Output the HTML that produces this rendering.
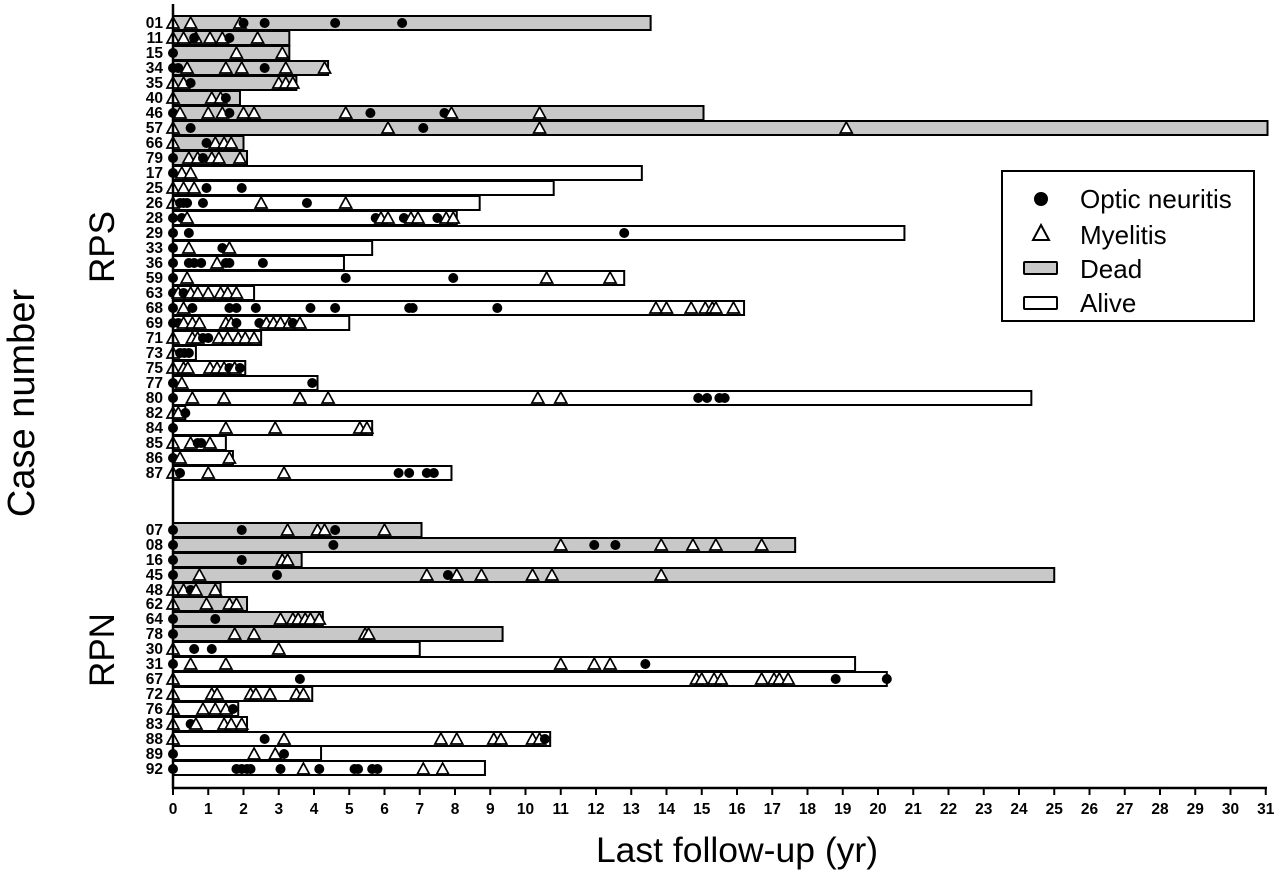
<!DOCTYPE html>
<html><head><meta charset="utf-8"><style>
html,body{margin:0;padding:0;background:#fff}
svg{display:block}
text{font-family:"Liberation Sans",Arial,sans-serif;fill:#000}
.rl{font-size:15.5px;font-weight:bold;text-anchor:end}
.tl{font-size:15.5px;font-weight:bold;text-anchor:middle}
</style></head><body>
<svg width="1280" height="876" viewBox="0 0 1280 876" xmlns="http://www.w3.org/2000/svg">
<defs>
<ellipse id="d" cx="0" cy="0" rx="0.1418" ry="5" fill="#000"/>
<path id="t" d="M0,-6 L0.1702,5 L-0.1702,5 Z" fill="#fff" stroke="#000" stroke-width="1.7" vector-effect="non-scaling-stroke" stroke-linejoin="miter"/>
</defs>
<g transform="translate(173,0) scale(35.25,1)" stroke="#000" stroke-width="2">
<g vector-effect="non-scaling-stroke">
<rect x="0" y="16" width="13.55" height="14" fill="#c8c8c8" vector-effect="non-scaling-stroke"/>
<rect x="0" y="31" width="3.3" height="14" fill="#c8c8c8" vector-effect="non-scaling-stroke"/>
<rect x="0" y="46" width="3.3" height="14" fill="#c8c8c8" vector-effect="non-scaling-stroke"/>
<rect x="0" y="61" width="4.4" height="14" fill="#c8c8c8" vector-effect="non-scaling-stroke"/>
<rect x="0" y="76" width="3.5" height="14" fill="#c8c8c8" vector-effect="non-scaling-stroke"/>
<rect x="0" y="91" width="1.9" height="14" fill="#c8c8c8" vector-effect="non-scaling-stroke"/>
<rect x="0" y="106" width="15.05" height="14" fill="#c8c8c8" vector-effect="non-scaling-stroke"/>
<rect x="0" y="121" width="31.05" height="14" fill="#c8c8c8" vector-effect="non-scaling-stroke"/>
<rect x="0" y="136" width="2.0" height="14" fill="#c8c8c8" vector-effect="non-scaling-stroke"/>
<rect x="0" y="151" width="2.1" height="14" fill="#c8c8c8" vector-effect="non-scaling-stroke"/>
<rect x="0" y="166" width="13.3" height="14" fill="#fff" vector-effect="non-scaling-stroke"/>
<rect x="0" y="181" width="10.8" height="14" fill="#fff" vector-effect="non-scaling-stroke"/>
<rect x="0" y="196" width="8.7" height="14" fill="#fff" vector-effect="non-scaling-stroke"/>
<rect x="0" y="211" width="8.05" height="14" fill="#fff" vector-effect="non-scaling-stroke"/>
<rect x="0" y="226" width="20.75" height="14" fill="#fff" vector-effect="non-scaling-stroke"/>
<rect x="0" y="241" width="5.65" height="14" fill="#fff" vector-effect="non-scaling-stroke"/>
<rect x="0" y="256" width="4.85" height="14" fill="#fff" vector-effect="non-scaling-stroke"/>
<rect x="0" y="271" width="12.8" height="14" fill="#fff" vector-effect="non-scaling-stroke"/>
<rect x="0" y="286" width="2.3" height="14" fill="#fff" vector-effect="non-scaling-stroke"/>
<rect x="0" y="301" width="16.2" height="14" fill="#fff" vector-effect="non-scaling-stroke"/>
<rect x="0" y="316" width="5.0" height="14" fill="#fff" vector-effect="non-scaling-stroke"/>
<rect x="0" y="331" width="2.5" height="14" fill="#fff" vector-effect="non-scaling-stroke"/>
<rect x="0" y="346" width="0.65" height="14" fill="#fff" vector-effect="non-scaling-stroke"/>
<rect x="0" y="361" width="2.05" height="14" fill="#fff" vector-effect="non-scaling-stroke"/>
<rect x="0" y="376" width="4.1" height="14" fill="#fff" vector-effect="non-scaling-stroke"/>
<rect x="0" y="391" width="24.35" height="14" fill="#fff" vector-effect="non-scaling-stroke"/>
<rect x="0" y="406" width="0.35" height="14" fill="#fff" vector-effect="non-scaling-stroke"/>
<rect x="0" y="421" width="5.65" height="14" fill="#fff" vector-effect="non-scaling-stroke"/>
<rect x="0" y="436" width="1.5" height="14" fill="#fff" vector-effect="non-scaling-stroke"/>
<rect x="0" y="451" width="1.7" height="14" fill="#fff" vector-effect="non-scaling-stroke"/>
<rect x="0" y="466" width="7.9" height="14" fill="#fff" vector-effect="non-scaling-stroke"/>
<rect x="0" y="523" width="7.05" height="14" fill="#c8c8c8" vector-effect="non-scaling-stroke"/>
<rect x="0" y="538" width="17.65" height="14" fill="#c8c8c8" vector-effect="non-scaling-stroke"/>
<rect x="0" y="553" width="3.65" height="14" fill="#c8c8c8" vector-effect="non-scaling-stroke"/>
<rect x="0" y="568" width="25.0" height="14" fill="#c8c8c8" vector-effect="non-scaling-stroke"/>
<rect x="0" y="583" width="1.35" height="14" fill="#c8c8c8" vector-effect="non-scaling-stroke"/>
<rect x="0" y="597" width="2.1" height="14" fill="#c8c8c8" vector-effect="non-scaling-stroke"/>
<rect x="0" y="612" width="4.25" height="14" fill="#c8c8c8" vector-effect="non-scaling-stroke"/>
<rect x="0" y="627" width="9.35" height="14" fill="#c8c8c8" vector-effect="non-scaling-stroke"/>
<rect x="0" y="642" width="7.0" height="14" fill="#fff" vector-effect="non-scaling-stroke"/>
<rect x="0" y="657" width="19.35" height="14" fill="#fff" vector-effect="non-scaling-stroke"/>
<rect x="0" y="672" width="20.25" height="14" fill="#fff" vector-effect="non-scaling-stroke"/>
<rect x="0" y="687" width="3.95" height="14" fill="#fff" vector-effect="non-scaling-stroke"/>
<rect x="0" y="702" width="1.85" height="14" fill="#fff" vector-effect="non-scaling-stroke"/>
<rect x="0" y="717" width="2.1" height="14" fill="#fff" vector-effect="non-scaling-stroke"/>
<rect x="0" y="732" width="10.7" height="14" fill="#fff" vector-effect="non-scaling-stroke"/>
<rect x="0" y="746" width="4.2" height="14" fill="#fff" vector-effect="non-scaling-stroke"/>
<rect x="0" y="761" width="8.85" height="14" fill="#fff" vector-effect="non-scaling-stroke"/>
</g>
<g stroke="none">
<use href="#t" x="0" y="23"/><use href="#t" x="0.5" y="23"/><use href="#t" x="1.9" y="23"/><use href="#d" x="2.0" y="23"/><use href="#d" x="2.6" y="23"/><use href="#d" x="4.6" y="23"/><use href="#d" x="6.5" y="23"/>
<use href="#t" x="0" y="38"/><use href="#t" x="0.3" y="38"/><use href="#t" x="0.65" y="38"/><use href="#t" x="1.05" y="38"/><use href="#t" x="1.4" y="38"/><use href="#t" x="2.4" y="38"/><use href="#d" x="0.6" y="38"/><use href="#d" x="1.6" y="38"/>
<use href="#d" x="0" y="53"/><use href="#t" x="1.8" y="53"/><use href="#t" x="3.1" y="53"/>
<use href="#d" x="0" y="68"/><use href="#d" x="0.15" y="68"/><use href="#t" x="0.4" y="68"/><use href="#t" x="1.5" y="68"/><use href="#t" x="1.95" y="68"/><use href="#d" x="2.6" y="68"/><use href="#t" x="3.2" y="68"/><use href="#t" x="4.3" y="68"/>
<use href="#t" x="0" y="83"/><use href="#t" x="0.3" y="83"/><use href="#d" x="0.5" y="83"/><use href="#t" x="3.0" y="83"/><use href="#t" x="3.2" y="83"/><use href="#t" x="3.4" y="83"/>
<use href="#t" x="0" y="98"/><use href="#t" x="1.1" y="98"/><use href="#t" x="1.35" y="98"/><use href="#d" x="1.5" y="98"/>
<use href="#d" x="0" y="113"/><use href="#t" x="0.2" y="113"/><use href="#t" x="1.0" y="113"/><use href="#t" x="1.4" y="113"/><use href="#d" x="1.6" y="113"/><use href="#t" x="2.0" y="113"/><use href="#t" x="2.3" y="113"/><use href="#t" x="4.9" y="113"/><use href="#d" x="5.6" y="113"/><use href="#d" x="7.7" y="113"/><use href="#t" x="7.9" y="113"/><use href="#t" x="10.4" y="113"/>
<use href="#t" x="0" y="128"/><use href="#d" x="0.5" y="128"/><use href="#t" x="6.1" y="128"/><use href="#d" x="7.1" y="128"/><use href="#t" x="10.4" y="128"/><use href="#t" x="19.1" y="128"/>
<use href="#t" x="0" y="143"/><use href="#d" x="0.95" y="143"/><use href="#t" x="1.2" y="143"/><use href="#t" x="1.45" y="143"/><use href="#t" x="1.65" y="143"/>
<use href="#d" x="0" y="158"/><use href="#t" x="0.45" y="158"/><use href="#t" x="0.7" y="158"/><use href="#d" x="0.85" y="158"/><use href="#t" x="1.1" y="158"/><use href="#t" x="1.3" y="158"/><use href="#t" x="1.9" y="158"/>
<use href="#d" x="0" y="173"/><use href="#t" x="0.25" y="173"/><use href="#t" x="0.5" y="173"/>
<use href="#t" x="0" y="188"/><use href="#t" x="0.3" y="188"/><use href="#t" x="0.6" y="188"/><use href="#d" x="0.95" y="188"/><use href="#d" x="1.95" y="188"/>
<use href="#t" x="0" y="203"/><use href="#d" x="0.2" y="203"/><use href="#d" x="0.3" y="203"/><use href="#d" x="0.4" y="203"/><use href="#d" x="0.85" y="203"/><use href="#t" x="2.5" y="203"/><use href="#d" x="3.8" y="203"/><use href="#t" x="4.9" y="203"/>
<use href="#d" x="0" y="218"/><use href="#d" x="0.25" y="218"/><use href="#t" x="0.4" y="218"/><use href="#d" x="5.75" y="218"/><use href="#t" x="5.9" y="218"/><use href="#t" x="6.1" y="218"/><use href="#d" x="6.55" y="218"/><use href="#t" x="6.75" y="218"/><use href="#t" x="6.95" y="218"/><use href="#d" x="7.5" y="218"/><use href="#t" x="7.75" y="218"/><use href="#t" x="7.95" y="218"/>
<use href="#d" x="0" y="233"/><use href="#d" x="0.45" y="233"/><use href="#d" x="12.8" y="233"/>
<use href="#d" x="0" y="248"/><use href="#t" x="0.45" y="248"/><use href="#d" x="1.4" y="248"/><use href="#t" x="1.6" y="248"/>
<use href="#d" x="0" y="263"/><use href="#d" x="0.45" y="263"/><use href="#d" x="0.6" y="263"/><use href="#d" x="0.8" y="263"/><use href="#t" x="1.25" y="263"/><use href="#d" x="1.5" y="263"/><use href="#d" x="1.6" y="263"/><use href="#d" x="2.55" y="263"/>
<use href="#d" x="0" y="278"/><use href="#t" x="0.4" y="278"/><use href="#d" x="4.9" y="278"/><use href="#d" x="7.95" y="278"/><use href="#t" x="10.6" y="278"/><use href="#t" x="12.4" y="278"/>
<use href="#d" x="0" y="293"/><use href="#t" x="0.15" y="293"/><use href="#d" x="0.3" y="293"/><use href="#t" x="0.5" y="293"/><use href="#t" x="0.7" y="293"/><use href="#t" x="1.0" y="293"/><use href="#t" x="1.35" y="293"/><use href="#t" x="1.55" y="293"/><use href="#t" x="1.8" y="293"/>
<use href="#d" x="0" y="308"/><use href="#t" x="0.3" y="308"/><use href="#d" x="0.55" y="308"/><use href="#d" x="1.6" y="308"/><use href="#d" x="1.8" y="308"/><use href="#d" x="2.35" y="308"/><use href="#d" x="3.9" y="308"/><use href="#d" x="4.6" y="308"/><use href="#d" x="6.7" y="308"/><use href="#d" x="6.8" y="308"/><use href="#d" x="9.2" y="308"/><use href="#t" x="13.7" y="308"/><use href="#t" x="14.0" y="308"/><use href="#t" x="14.7" y="308"/><use href="#t" x="15.1" y="308"/><use href="#t" x="15.3" y="308"/><use href="#t" x="15.4" y="308"/><use href="#t" x="15.9" y="308"/>
<use href="#d" x="0" y="323"/><use href="#d" x="0.15" y="323"/><use href="#t" x="0.3" y="323"/><use href="#t" x="0.55" y="323"/><use href="#t" x="0.75" y="323"/><use href="#t" x="1.5" y="323"/><use href="#t" x="1.65" y="323"/><use href="#d" x="1.8" y="323"/><use href="#d" x="2.45" y="323"/><use href="#t" x="2.65" y="323"/><use href="#t" x="2.85" y="323"/><use href="#t" x="3.05" y="323"/><use href="#t" x="3.3" y="323"/><use href="#d" x="3.4" y="323"/><use href="#t" x="3.6" y="323"/>
<use href="#t" x="0" y="338"/><use href="#t" x="0.55" y="338"/><use href="#t" x="0.7" y="338"/><use href="#d" x="0.85" y="338"/><use href="#d" x="1.0" y="338"/><use href="#t" x="1.3" y="338"/><use href="#t" x="1.55" y="338"/><use href="#t" x="1.85" y="338"/><use href="#t" x="2.05" y="338"/><use href="#t" x="2.3" y="338"/>
<use href="#t" x="0" y="353"/><use href="#d" x="0.2" y="353"/><use href="#d" x="0.32" y="353"/><use href="#d" x="0.45" y="353"/>
<use href="#t" x="0" y="368"/><use href="#t" x="0.3" y="368"/><use href="#t" x="0.42" y="368"/><use href="#t" x="1.05" y="368"/><use href="#t" x="1.25" y="368"/><use href="#t" x="1.45" y="368"/><use href="#d" x="1.6" y="368"/><use href="#t" x="1.75" y="368"/><use href="#d" x="1.9" y="368"/>
<use href="#d" x="0" y="383"/><use href="#t" x="0.25" y="383"/><use href="#d" x="3.95" y="383"/>
<use href="#d" x="0" y="398"/><use href="#t" x="0.55" y="398"/><use href="#t" x="1.45" y="398"/><use href="#t" x="3.6" y="398"/><use href="#t" x="4.4" y="398"/><use href="#t" x="10.35" y="398"/><use href="#t" x="11.0" y="398"/><use href="#d" x="14.9" y="398"/><use href="#d" x="15.15" y="398"/><use href="#d" x="15.5" y="398"/><use href="#d" x="15.65" y="398"/>
<use href="#t" x="0" y="413"/><use href="#t" x="0.15" y="413"/><use href="#d" x="0.35" y="413"/>
<use href="#d" x="0" y="428"/><use href="#t" x="1.5" y="428"/><use href="#t" x="2.9" y="428"/><use href="#t" x="5.3" y="428"/><use href="#t" x="5.5" y="428"/>
<use href="#t" x="0" y="443"/><use href="#t" x="0.5" y="443"/><use href="#d" x="0.7" y="443"/><use href="#d" x="0.8" y="443"/><use href="#t" x="1.05" y="443"/>
<use href="#d" x="0" y="458"/><use href="#t" x="0.2" y="458"/><use href="#t" x="1.6" y="458"/>
<use href="#t" x="0" y="473"/><use href="#d" x="0.2" y="473"/><use href="#t" x="1.0" y="473"/><use href="#t" x="3.15" y="473"/><use href="#d" x="6.4" y="473"/><use href="#d" x="6.7" y="473"/><use href="#d" x="7.2" y="473"/><use href="#d" x="7.4" y="473"/>
<use href="#d" x="0" y="530"/><use href="#d" x="1.95" y="530"/><use href="#t" x="3.25" y="530"/><use href="#t" x="4.1" y="530"/><use href="#t" x="4.3" y="530"/><use href="#d" x="4.6" y="530"/><use href="#t" x="6.0" y="530"/>
<use href="#d" x="0" y="545"/><use href="#d" x="4.55" y="545"/><use href="#t" x="11.0" y="545"/><use href="#d" x="11.95" y="545"/><use href="#d" x="12.55" y="545"/><use href="#t" x="13.85" y="545"/><use href="#t" x="14.75" y="545"/><use href="#t" x="15.4" y="545"/><use href="#t" x="16.7" y="545"/>
<use href="#d" x="0" y="560"/><use href="#d" x="1.95" y="560"/><use href="#t" x="3.1" y="560"/><use href="#t" x="3.25" y="560"/>
<use href="#d" x="0" y="575"/><use href="#t" x="0.75" y="575"/><use href="#d" x="2.95" y="575"/><use href="#t" x="7.2" y="575"/><use href="#d" x="7.8" y="575"/><use href="#t" x="8.05" y="575"/><use href="#t" x="8.75" y="575"/><use href="#t" x="10.2" y="575"/><use href="#t" x="10.75" y="575"/><use href="#t" x="13.85" y="575"/>
<use href="#t" x="0" y="590"/><use href="#t" x="0.3" y="590"/><use href="#d" x="0.5" y="590"/><use href="#t" x="0.65" y="590"/><use href="#t" x="1.2" y="590"/>
<use href="#t" x="0" y="604"/><use href="#t" x="0.95" y="604"/><use href="#t" x="1.6" y="604"/><use href="#t" x="1.8" y="604"/>
<use href="#d" x="0" y="619"/><use href="#d" x="1.2" y="619"/><use href="#t" x="3.05" y="619"/><use href="#t" x="3.4" y="619"/><use href="#t" x="3.55" y="619"/><use href="#t" x="3.75" y="619"/><use href="#t" x="3.9" y="619"/><use href="#t" x="4.15" y="619"/>
<use href="#d" x="0" y="634"/><use href="#t" x="1.75" y="634"/><use href="#t" x="2.3" y="634"/><use href="#t" x="5.45" y="634"/><use href="#t" x="5.55" y="634"/>
<use href="#t" x="0" y="649"/><use href="#d" x="0.6" y="649"/><use href="#d" x="1.1" y="649"/><use href="#t" x="3.0" y="649"/>
<use href="#d" x="0" y="664"/><use href="#t" x="0.5" y="664"/><use href="#t" x="1.5" y="664"/><use href="#t" x="11.0" y="664"/><use href="#t" x="11.95" y="664"/><use href="#t" x="12.4" y="664"/><use href="#d" x="13.4" y="664"/>
<use href="#t" x="0" y="679"/><use href="#d" x="3.6" y="679"/><use href="#t" x="14.85" y="679"/><use href="#t" x="15.0" y="679"/><use href="#t" x="15.35" y="679"/><use href="#t" x="15.55" y="679"/><use href="#t" x="16.7" y="679"/><use href="#t" x="17.05" y="679"/><use href="#t" x="17.2" y="679"/><use href="#t" x="17.45" y="679"/><use href="#d" x="18.8" y="679"/><use href="#d" x="20.25" y="679"/>
<use href="#t" x="0" y="694"/><use href="#t" x="1.1" y="694"/><use href="#t" x="1.25" y="694"/><use href="#t" x="2.2" y="694"/><use href="#t" x="2.35" y="694"/><use href="#t" x="2.75" y="694"/><use href="#t" x="3.5" y="694"/><use href="#t" x="3.7" y="694"/>
<use href="#t" x="0" y="709"/><use href="#t" x="0.85" y="709"/><use href="#t" x="1.2" y="709"/><use href="#t" x="1.5" y="709"/><use href="#d" x="1.7" y="709"/>
<use href="#t" x="0" y="724"/><use href="#d" x="0.5" y="724"/><use href="#t" x="0.65" y="724"/><use href="#t" x="1.45" y="724"/><use href="#t" x="1.65" y="724"/><use href="#t" x="1.95" y="724"/>
<use href="#t" x="0" y="739"/><use href="#d" x="2.6" y="739"/><use href="#t" x="3.15" y="739"/><use href="#t" x="7.6" y="739"/><use href="#t" x="8.05" y="739"/><use href="#t" x="9.1" y="739"/><use href="#t" x="9.3" y="739"/><use href="#t" x="10.2" y="739"/><use href="#t" x="10.4" y="739"/><use href="#d" x="10.55" y="739"/>
<use href="#d" x="0" y="754"/><use href="#t" x="2.3" y="754"/><use href="#t" x="2.9" y="754"/><use href="#d" x="3.15" y="754"/>
<use href="#d" x="0" y="769"/><use href="#d" x="1.8" y="769"/><use href="#d" x="1.95" y="769"/><use href="#d" x="2.1" y="769"/><use href="#d" x="2.2" y="769"/><use href="#d" x="3.05" y="769"/><use href="#t" x="3.7" y="769"/><use href="#d" x="4.15" y="769"/><use href="#d" x="5.15" y="769"/><use href="#d" x="5.25" y="769"/><use href="#d" x="5.65" y="769"/><use href="#d" x="5.8" y="769"/><use href="#t" x="7.1" y="769"/><use href="#t" x="7.65" y="769"/>
</g>
</g>
<line x1="173" y1="4" x2="173" y2="789" stroke="#000" stroke-width="2.5"/>
<line x1="172" y1="788" x2="1267" y2="788" stroke="#000" stroke-width="2.5"/>
<g stroke="#000" stroke-width="2">
<line x1="173" y1="788" x2="173" y2="795"/><line x1="208.25" y1="788" x2="208.25" y2="795"/><line x1="243.5" y1="788" x2="243.5" y2="795"/><line x1="278.75" y1="788" x2="278.75" y2="795"/><line x1="314" y1="788" x2="314" y2="795"/><line x1="349.25" y1="788" x2="349.25" y2="795"/><line x1="384.5" y1="788" x2="384.5" y2="795"/><line x1="419.75" y1="788" x2="419.75" y2="795"/><line x1="455" y1="788" x2="455" y2="795"/><line x1="490.25" y1="788" x2="490.25" y2="795"/><line x1="525.5" y1="788" x2="525.5" y2="795"/><line x1="560.75" y1="788" x2="560.75" y2="795"/><line x1="596" y1="788" x2="596" y2="795"/><line x1="631.25" y1="788" x2="631.25" y2="795"/><line x1="666.5" y1="788" x2="666.5" y2="795"/><line x1="701.75" y1="788" x2="701.75" y2="795"/><line x1="737" y1="788" x2="737" y2="795"/><line x1="772.25" y1="788" x2="772.25" y2="795"/><line x1="807.5" y1="788" x2="807.5" y2="795"/><line x1="842.75" y1="788" x2="842.75" y2="795"/><line x1="878" y1="788" x2="878" y2="795"/><line x1="913.25" y1="788" x2="913.25" y2="795"/><line x1="948.5" y1="788" x2="948.5" y2="795"/><line x1="983.75" y1="788" x2="983.75" y2="795"/><line x1="1019" y1="788" x2="1019" y2="795"/><line x1="1054.25" y1="788" x2="1054.25" y2="795"/><line x1="1089.5" y1="788" x2="1089.5" y2="795"/><line x1="1124.75" y1="788" x2="1124.75" y2="795"/><line x1="1160" y1="788" x2="1160" y2="795"/><line x1="1195.25" y1="788" x2="1195.25" y2="795"/><line x1="1230.5" y1="788" x2="1230.5" y2="795"/><line x1="1265.75" y1="788" x2="1265.75" y2="795"/>
</g>
<g>
<text x="173" y="814" class="tl">0</text><text x="208.25" y="814" class="tl">1</text><text x="243.5" y="814" class="tl">2</text><text x="278.75" y="814" class="tl">3</text><text x="314" y="814" class="tl">4</text><text x="349.25" y="814" class="tl">5</text><text x="384.5" y="814" class="tl">6</text><text x="419.75" y="814" class="tl">7</text><text x="455" y="814" class="tl">8</text><text x="490.25" y="814" class="tl">9</text><text x="525.5" y="814" class="tl">10</text><text x="560.75" y="814" class="tl">11</text><text x="596" y="814" class="tl">12</text><text x="631.25" y="814" class="tl">13</text><text x="666.5" y="814" class="tl">14</text><text x="701.75" y="814" class="tl">15</text><text x="737" y="814" class="tl">16</text><text x="772.25" y="814" class="tl">17</text><text x="807.5" y="814" class="tl">18</text><text x="842.75" y="814" class="tl">19</text><text x="878" y="814" class="tl">20</text><text x="913.25" y="814" class="tl">21</text><text x="948.5" y="814" class="tl">22</text><text x="983.75" y="814" class="tl">23</text><text x="1019" y="814" class="tl">24</text><text x="1054.25" y="814" class="tl">25</text><text x="1089.5" y="814" class="tl">26</text><text x="1124.75" y="814" class="tl">27</text><text x="1160" y="814" class="tl">28</text><text x="1195.25" y="814" class="tl">29</text><text x="1230.5" y="814" class="tl">30</text><text x="1265.75" y="814" class="tl">31</text>
</g>
<g>
<text x="163" y="28" class="rl">01</text><text x="163" y="43" class="rl">11</text><text x="163" y="58" class="rl">15</text><text x="163" y="73" class="rl">34</text><text x="163" y="88" class="rl">35</text><text x="163" y="103" class="rl">40</text><text x="163" y="118" class="rl">46</text><text x="163" y="133" class="rl">57</text><text x="163" y="148" class="rl">66</text><text x="163" y="163" class="rl">79</text><text x="163" y="178" class="rl">17</text><text x="163" y="193" class="rl">25</text><text x="163" y="208" class="rl">26</text><text x="163" y="223" class="rl">28</text><text x="163" y="238" class="rl">29</text><text x="163" y="253" class="rl">33</text><text x="163" y="268" class="rl">36</text><text x="163" y="283" class="rl">59</text><text x="163" y="298" class="rl">63</text><text x="163" y="313" class="rl">68</text><text x="163" y="328" class="rl">69</text><text x="163" y="343" class="rl">71</text><text x="163" y="358" class="rl">73</text><text x="163" y="373" class="rl">75</text><text x="163" y="388" class="rl">77</text><text x="163" y="403" class="rl">80</text><text x="163" y="418" class="rl">82</text><text x="163" y="433" class="rl">84</text><text x="163" y="448" class="rl">85</text><text x="163" y="463" class="rl">86</text><text x="163" y="478" class="rl">87</text>
<text x="163" y="535" class="rl">07</text><text x="163" y="550" class="rl">08</text><text x="163" y="565" class="rl">16</text><text x="163" y="580" class="rl">45</text><text x="163" y="595" class="rl">48</text><text x="163" y="609" class="rl">62</text><text x="163" y="624" class="rl">64</text><text x="163" y="639" class="rl">78</text><text x="163" y="654" class="rl">30</text><text x="163" y="669" class="rl">31</text><text x="163" y="684" class="rl">67</text><text x="163" y="699" class="rl">72</text><text x="163" y="714" class="rl">76</text><text x="163" y="729" class="rl">83</text><text x="163" y="744" class="rl">88</text><text x="163" y="759" class="rl">89</text><text x="163" y="774" class="rl">92</text>
</g>
<text x="737" y="862" font-size="35.5" text-anchor="middle">Last follow-up (yr)</text>
<text transform="translate(34,403) rotate(-90)" font-size="38" text-anchor="middle">Case number</text>
<text transform="translate(114,247) rotate(-90)" font-size="35" text-anchor="middle">RPS</text>
<text transform="translate(114,650) rotate(-90)" font-size="35" text-anchor="middle">RPN</text>
<rect x="1002" y="171" width="252" height="150" fill="#fff" stroke="#000" stroke-width="2"/>
<circle cx="1041" cy="199" r="7" fill="#000"/>
<text x="1080" y="208" font-size="26">Optic neuritis</text>
<path d="M1041,225 L1049,240 L1033,240 Z" fill="#fff" stroke="#000" stroke-width="2"/>
<text x="1080" y="244" font-size="26">Myelitis</text>
<rect x="1024" y="262" width="33" height="12" fill="#c8c8c8" stroke="#000" stroke-width="2" rx="1"/>
<text x="1080" y="278" font-size="26">Dead</text>
<rect x="1024" y="297" width="33" height="12" fill="#fff" stroke="#000" stroke-width="2" rx="1"/>
<text x="1080" y="312" font-size="26">Alive</text>
</svg>
</body></html>
